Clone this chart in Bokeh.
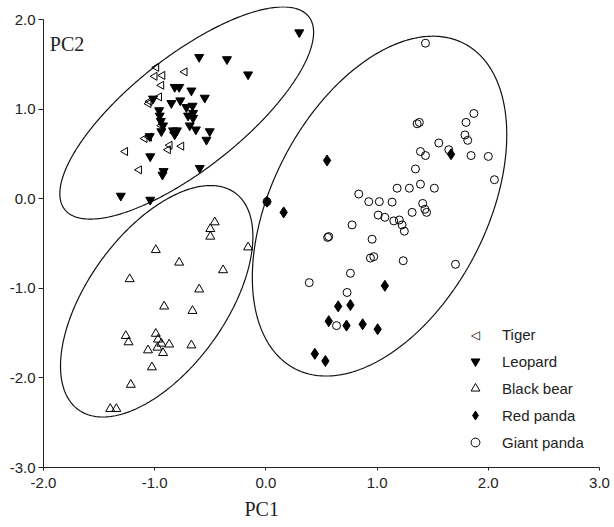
import numpy as np
from bokeh.plotting import figure
from bokeh.models import (Range1d, FixedTicker, NumeralTickFormatter, Legend,
                          LegendItem, Label, Title)
from bokeh.embed import file_html
from bokeh.resources import INLINE

# ---- data ----
tiger_x = [-0.985, -1.00, -0.93, -0.73, -0.94, -0.96, -1.045, -1.055, -0.94,
           -1.09, -1.05, -0.825, -0.865, -0.88, -0.76, -1.265, -1.14]
tiger_y = [1.47, 1.37, 1.38, 1.42, 1.27, 1.14, 1.09, 1.065, 0.82,
           0.675, 0.69, 0.74, 0.60, 0.55, 0.59, 0.53, 0.325]

leopard_x = [0.30, -0.60, -0.35, -0.16, -0.82, -0.78, -0.67, -0.55, -1.015,
             -0.85, -0.77, -0.715, -0.66, -0.96, -0.955, -0.70, -0.655, -0.945,
             -0.685, -0.63, -0.94, -0.835, -0.80, -0.82, -0.505, -0.535, -1.045,
             -1.04, -0.595, -0.92, -0.93, -1.305, -1.04, -0.655, -0.925]
leopard_y = [1.86, 1.585, 1.56, 1.39, 1.25, 1.25, 1.21, 1.13, 1.12,
             1.07, 1.10, 1.025, 1.04, 0.99, 0.93, 0.93, 0.905, 0.87,
             0.82, 0.775, 0.755, 0.765, 0.765, 0.72, 0.755, 0.66, 0.70,
             0.475, 0.345, 0.31, 0.27, 0.035, -0.01, 0.96, 0.82]

bear_x = [-0.46, -0.50, -0.50, -0.16, -0.99, -0.78, -0.385, -1.225, -0.60,
          -0.915, -0.66, -1.26, -1.235, -0.99, -0.97, -0.94, -0.87, -0.975,
          -1.06, -0.925, -0.67, -1.025, -1.215, -1.40, -1.345]
bear_y = [-0.26, -0.335, -0.42, -0.54, -0.57, -0.71, -0.795, -0.895, -1.01,
          -1.20, -1.25, -1.53, -1.60, -1.505, -1.57, -1.615, -1.625, -1.66,
          -1.69, -1.72, -1.635, -1.88, -2.075, -2.345, -2.345]

red_x = [0.55, 0.16, 1.665, 0.01, 1.07, 0.65, 0.76, 0.565, 0.725, 0.87,
         1.005, 0.44, 0.535]
red_y = [0.43, -0.15, 0.50, -0.03, -0.97, -1.20, -1.185, -1.365, -1.415,
         -1.40, -1.455, -1.73, -1.81]

giant_x = [1.435, 1.87, 1.80, 1.36, 1.38, 1.79, 1.815, 1.555, 1.645, 1.39,
           1.435, 1.845, 2.00, 1.345, 2.055, 1.18, 1.29, 1.39, 1.515, 0.835,
           0.925, 1.02, 1.135, 1.41, 1.43, 1.445, 1.315, 1.01, 1.07, 1.15,
           1.20, 1.225, 1.245, 0.775, 0.555, 0.565, 0.955, 0.94, 0.97, 1.235,
           1.705, 0.76, 0.39, 0.73, 0.635, 0.01]
giant_y = [1.74, 0.955, 0.855, 0.84, 0.855, 0.715, 0.655, 0.625, 0.55, 0.53,
           0.485, 0.485, 0.475, 0.335, 0.215, 0.12, 0.12, 0.165, 0.12, 0.055,
           -0.03, -0.03, -0.035, -0.05, -0.115, -0.15, -0.15, -0.18, -0.205, -0.245,
           -0.235, -0.29, -0.36, -0.29, -0.43, -0.42, -0.45, -0.66, -0.645, -0.69,
           -0.73, -0.83, -0.935, -1.045, -1.415, -0.03]

# ellipses: centre, half-extent in x and y, correlation
ell_cx = [-0.712, -0.982, 1.022]
ell_cy = [0.96, -1.143, -0.080]
ell_hx = [1.141, 0.865, 1.144]
ell_hy = [1.185, 1.293, 1.898]
ell_rho = [0.76, 0.56, 0.42]

x_ticks = [-2, -1, 0, 1, 2, 3]
y_ticks = [-3, -2, -1, 0, 1, 2]
labels = ["Tiger", "Leopard", "Black bear", "Red panda", "Giant panda"]

# ---- figure ----
p = figure(frame_width=556, frame_height=461, output_backend="svg",
           toolbar_location=None, x_range=Range1d(-2, 3),
           y_range=Range1d(-3, 2.15),
           min_border_left=43, min_border_top=6, min_border_right=12,
           min_border_bottom=58)
p.outline_line_color = None
p.grid.visible = False
p.background_fill_color = "white"
p.border_fill_color = "white"

for ax, ticks in ((p.xaxis[0], x_ticks), (p.yaxis[0], y_ticks)):
    ax.ticker = FixedTicker(ticks=ticks)
    ax.formatter = NumeralTickFormatter(format="0.0")
    ax.minor_tick_line_color = None
    ax.axis_line_color = "#222222"
    ax.major_tick_line_color = "#222222"
    ax.major_tick_in = 0
    ax.major_label_text_font = "Liberation Sans"
    ax.major_label_text_font_size = "15px"
    ax.major_label_text_color = "#222222"
p.yaxis.bounds = (-3, 2)
p.xaxis.major_tick_out = 3
p.xaxis.major_label_standoff = 7
p.yaxis.major_tick_out = 5
p.yaxis.major_label_standoff = 3

# ellipses
t = np.linspace(0, 2 * np.pi, 400)
for cx, cy, hx, hy, r in zip(ell_cx, ell_cy, ell_hx, ell_hy, ell_rho):
    ex = cx + hx * np.cos(t)
    ey = cy + hy * (r * np.cos(t) + np.sqrt(1 - r * r) * np.sin(t))
    p.line(ex, ey, line_color="#111111", line_width=1.2)

r_tiger = p.scatter(tiger_x, tiger_y, marker="triangle", angle=np.pi / 2, size=8,
                    fill_color=None, line_color="black", line_width=1)
r_leo = p.scatter(leopard_x, leopard_y, marker="inverted_triangle", size=9,
                  fill_color="black", line_color="black")
r_bear = p.scatter(bear_x, bear_y, marker="triangle", size=9,
                   fill_color=None, line_color="black", line_width=1)
r_red = p.scatter(red_x, red_y, marker="diamond", size=11,
                  fill_color="black", line_color="black")
r_giant = p.scatter(giant_x, giant_y, marker="circle", size=8,
                    fill_color=None, line_color="black", line_width=1)
# legend glyphs are never rotated by Bokeh, so the tiger key gets its own symbol
r_tiger_key = p.scatter([], [], marker="triangle", size=1,
                        fill_alpha=0, line_alpha=0)

GLYPH = 22
legend = Legend(items=[
    LegendItem(label=labels[0], renderers=[r_tiger_key]),
    LegendItem(label=labels[1], renderers=[r_leo]),
    LegendItem(label=labels[2], renderers=[r_bear]),
    LegendItem(label=labels[3], renderers=[r_red]),
    LegendItem(label=labels[4], renderers=[r_giant]),
], location=(421, 14), padding=0, margin=0, spacing=5,
   glyph_width=GLYPH, glyph_height=GLYPH, label_height=GLYPH, label_standoff=16,
   label_text_font="Liberation Sans", label_text_font_size="15px",
   label_text_color="#222222", border_line_color=None,
   background_fill_alpha=0)
p.add_layout(legend)

# position of the first legend row's symbol (frame pixels -> data units)
key_px, key_py = 421 + GLYPH / 2, 14 + 5 * GLYPH + 4 * 5 - GLYPH / 2
xs = 556 / 5.0
ys = 461 / 5.15
p.add_layout(Label(x=-2 + key_px / xs, y=-3 + key_py / ys, text="\u25c1",
                   text_font="DejaVu Sans", text_font_size="12px",
                   text_color="black", text_align="center",
                   text_baseline="middle"))

p.add_layout(Label(x=-1.943, y=1.728, text="PC2", text_font="Liberation Serif",
                   text_font_size="20px", text_color="#222222",
                   text_align="left", text_baseline="alphabetic"))
p.add_layout(Title(text="PC1", align="left", offset=201,
                   text_font="Liberation Serif", text_font_size="20px",
                   text_font_style="normal", text_color="#222222",
                   standoff=11), "below")

open("out.html", "w").write(file_html(p, INLINE))
